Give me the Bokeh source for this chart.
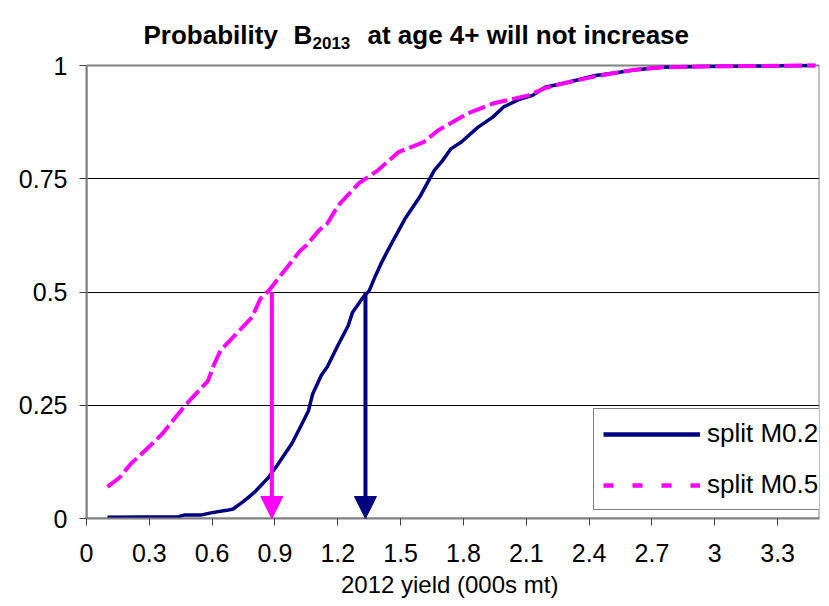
import math

from bokeh.embed import file_html
from bokeh.models import (Arrow, CustomJSTickFormatter, FixedTicker, Label, Legend,
                          LegendItem, NormalHead, Range1d)
from bokeh.plotting import figure
from bokeh.resources import INLINE

# Cumulative probability that B2013 (age 4+) will not increase, against 2012 yield
yield_m02 = [0.10, 0.44, 0.47, 0.55, 0.60, 0.67, 0.70, 0.75, 0.80, 0.87, 0.91, 0.98,
             1.02, 1.06, 1.08, 1.12, 1.15, 1.20, 1.25, 1.27, 1.32, 1.35, 1.38, 1.41,
             1.44, 1.52, 1.59, 1.66, 1.70, 1.74, 1.79, 1.87, 1.94, 1.99, 2.06, 2.13,
             2.19, 2.30, 2.43, 2.53, 2.61, 2.75, 2.94, 3.48]
prob_m02 = [0.003, 0.004, 0.008, 0.008, 0.013, 0.018, 0.021, 0.038, 0.057, 0.091, 0.117, 0.165,
            0.201, 0.238, 0.275, 0.315, 0.335, 0.382, 0.426, 0.455, 0.488, 0.503, 0.536, 0.566,
            0.593, 0.661, 0.709, 0.768, 0.790, 0.816, 0.831, 0.864, 0.886, 0.908, 0.924, 0.934,
            0.952, 0.963, 0.978, 0.984, 0.990, 0.996, 0.998, 1.000]

yield_m05 = [0.10, 0.16, 0.21, 0.28, 0.36, 0.47, 0.58, 0.61, 0.64, 0.79, 0.83, 0.87,
             1.02, 1.05, 1.11, 1.15, 1.20, 1.30, 1.39, 1.49, 1.61, 1.68, 1.82, 1.94,
             2.11, 2.19, 2.30, 2.43, 2.53, 2.61, 2.75, 2.94, 3.48]
prob_m05 = [0.070, 0.091, 0.120, 0.150, 0.186, 0.249, 0.304, 0.341, 0.371, 0.444, 0.485, 0.503,
            0.591, 0.603, 0.636, 0.651, 0.690, 0.740, 0.768, 0.809, 0.831, 0.857, 0.894, 0.916,
            0.934, 0.950, 0.963, 0.976, 0.984, 0.990, 0.996, 0.998, 1.000]

series_names = ["split M0.2", "split M0.5"]
series_colors = ["#000080", "#FF00FF"]

# 2012 yield at which each curve reaches a probability of 0.5
median_yield = [1.332, 0.885]
median_prob = 0.5

x_min, x_max = 0, 3.5
y_min, y_max = 0, 1
x_ticks = [0, 0.3, 0.6, 0.9, 1.2, 1.5, 1.8, 2.1, 2.4, 2.7, 3.0, 3.3]
x_tick_labels = ["0", "0.3", "0.6", "0.9", "1.2", "1.5", "1.8", "2.1", "2.4", "2.7", "3", "3.3"]
y_ticks = [0, 0.25, 0.5, 0.75, 1]
y_tick_labels = ["0", "0.25", "0.5", "0.75", "1"]

FONT = "Liberation Sans"
W, H = 829, 606
BORDER_BOTTOM = 88
PLOT_TOP = 65          # pixels from the top of the canvas down to the y = 1 line
HEADROOM = (H - BORDER_BOTTOM) / (H - BORDER_BOTTOM - PLOT_TOP)

# the frame reaches the top of the canvas so the title lines can sit inside it
p = figure(width=W, height=H, output_backend="svg", toolbar_location=None,
           x_range=Range1d(x_min, x_max), y_range=Range1d(y_min, y_max * HEADROOM),
           min_border_left=86, min_border_right=10, min_border_top=0,
           min_border_bottom=BORDER_BOTTOM)
p.title.text = ""
p.background_fill_color = "white"
p.border_fill_color = "white"
p.outline_line_color = None

label_js = """
let best = 0;
for (let i = 0; i < tick_values.length; i++) {
    if (Math.abs(tick_values[i] - tick) < Math.abs(tick_values[best] - tick)) best = i;
}
return tick_labels[best];
"""

p.xaxis.ticker = FixedTicker(ticks=x_ticks)
p.xaxis.formatter = CustomJSTickFormatter(
    args=dict(tick_values=x_ticks, tick_labels=x_tick_labels), code=label_js)
p.yaxis.ticker = FixedTicker(ticks=y_ticks)
p.yaxis.formatter = CustomJSTickFormatter(
    args=dict(tick_values=y_ticks, tick_labels=y_tick_labels), code=label_js)
p.yaxis.bounds = (y_min, y_max)

for ax in (p.xaxis[0], p.yaxis[0]):
    ax.axis_line_color = "#808080"
    ax.axis_line_width = 2
    ax.major_tick_line_color = "#404040"
    ax.major_tick_line_width = 1
    ax.major_tick_in = 0
    ax.major_tick_out = 7
    ax.minor_tick_line_color = None
    ax.major_label_text_font = FONT
    ax.major_label_text_font_size = "25px"
    ax.major_label_text_color = "black"

p.xaxis.major_label_standoff = 18
p.yaxis.major_label_standoff = 12
p.xaxis.axis_label = "2012 yield  (000s mt)"
p.xaxis.axis_label_text_font = FONT
p.xaxis.axis_label_text_font_size = "24px"
p.xaxis.axis_label_text_font_style = "normal"
p.xaxis.axis_label_text_color = "black"
p.xaxis.axis_label_standoff = 6

p.xgrid.grid_line_color = None
p.ygrid.ticker = FixedTicker(ticks=[0.25, 0.5, 0.75])
p.ygrid.grid_line_color = "black"
p.ygrid.grid_line_width = 1

# plot-area border
p.quad(left=[x_min], right=[x_max], bottom=[y_min], top=[y_max], fill_color=None,
       line_color="#808080", line_width=2)

# cumulative curves
p.line(yield_m02, prob_m02, line_color=series_colors[0], line_width=3.5, line_join="round")
p.line(yield_m05, prob_m05, line_color=series_colors[1], line_width=4, line_dash="18 5",
       line_join="round")

# arrows dropping from the 0.5 probability point to the yield axis
for xm, color in zip(median_yield, series_colors):
    p.add_layout(Arrow(end=NormalHead(size=22, fill_color=color, line_color=color, line_width=1),
                       x_start=xm, y_start=median_prob, x_end=xm, y_end=y_min,
                       line_color=color, line_width=4))

# legend samples
leg_a = p.line([math.nan], [math.nan], line_color=series_colors[0], line_width=4.5)
leg_b = p.line([math.nan], [math.nan], line_color=series_colors[1], line_width=4.5,
               line_dash="10 19")
legend = Legend(items=[LegendItem(label=series_names[0], renderers=[leg_a]),
                       LegendItem(label=series_names[1], renderers=[leg_b])],
                location=(507, 8), glyph_width=97, glyph_height=30, label_height=30,
                label_standoff=7, spacing=20, padding=9, margin=0,
                border_line_color="black", border_line_width=1,
                background_fill_color="white", background_fill_alpha=1.0,
                label_text_font=FONT, label_text_font_size="26px", label_text_color="black")
p.add_layout(legend)

# title with subscripted year, anchored at the top-left corner of the plot area
def title_piece(text, dx, dy, size):
    p.add_layout(Label(x=x_min, y=y_max, x_offset=dx, y_offset=dy, text=text, text_font=FONT,
                       text_font_style="bold", text_font_size=size, text_color="black",
                       text_baseline="alphabetic", text_align="left"))

title_piece("Probability", 57, 31, "26px")
title_piece("B", 207, 31, "26px")
title_piece("2013", 226, 23, "17px")
title_piece("at age 4+ will not increase", 281, 31, "26px")

open("out.html", "w").write(file_html(p, INLINE))
